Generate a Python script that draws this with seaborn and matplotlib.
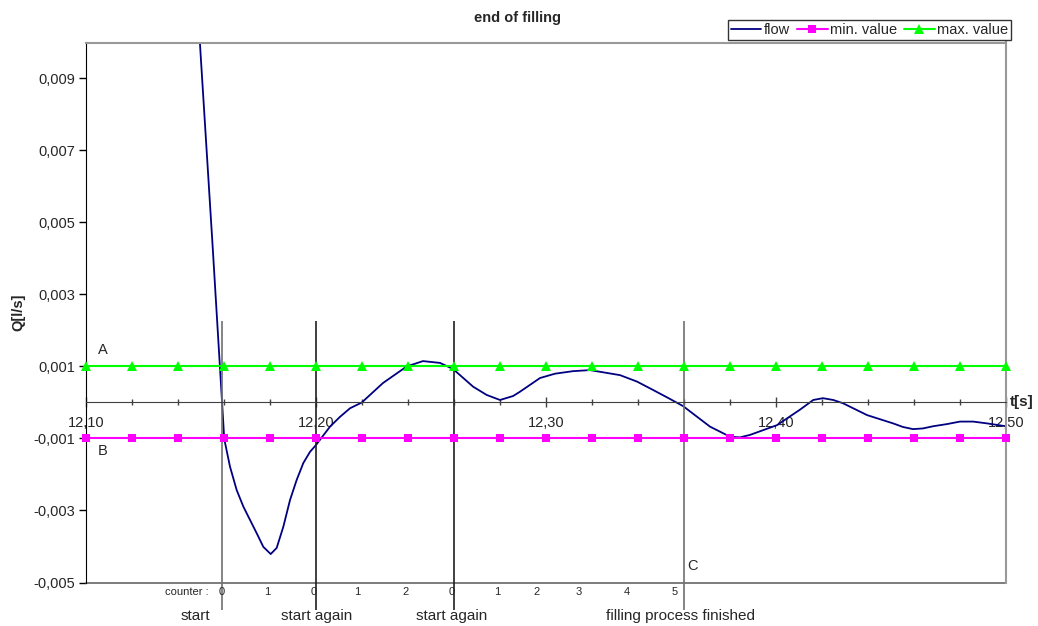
import numpy as np
import pandas as pd
import seaborn as sns
import matplotlib
matplotlib.use('Agg')
import matplotlib.pyplot as plt
from matplotlib.ticker import FixedLocator, FuncFormatter

# ---------------- data ----------------
# category axis (every 0.02 s), used by the limit series
t_cat = [12.10, 12.12, 12.14, 12.16, 12.18, 12.20, 12.22, 12.24, 12.26, 12.28, 12.30,
         12.32, 12.34, 12.36, 12.38, 12.40, 12.42, 12.44, 12.46, 12.48, 12.50]
q_min = [-0.001] * 21
q_max = [0.001] * 21

# flow curve at many points along the line
t_flow = [12.145, 12.150, 12.155, 12.1591, 12.1601, 12.1626, 12.1655, 12.1684, 12.1713,
          12.1742, 12.1771, 12.1803, 12.1829, 12.1858, 12.1887, 12.1916, 12.1945, 12.1974,
          12.2000, 12.2061, 12.2104, 12.2148, 12.2199, 12.2291, 12.2394, 12.2465, 12.2539,
          12.2596, 12.2683, 12.2742, 12.2800, 12.2857, 12.2887, 12.2974, 12.3039, 12.3117,
          12.3191, 12.3322, 12.3396, 12.3465, 12.3530, 12.3596, 12.3713, 12.3800, 12.3843,
          12.3887, 12.4004, 12.4104, 12.4162, 12.4204, 12.4249, 12.4291, 12.4396, 12.4509,
          12.4552, 12.4596, 12.4639, 12.4683, 12.4743, 12.4800, 12.4857, 12.4917, 12.5000]
q_flow = [0.0147, 0.0095, 0.0044, 0.00007, -0.00101, -0.00178, -0.00243, -0.00289, -0.00326,
          -0.00363, -0.00401, -0.00421, -0.00404, -0.00345, -0.00271, -0.00215, -0.00168, -0.00137,
          -0.00118, -0.00067, -0.0004, -0.00016, 0.0, 0.00054, 0.001, 0.00115, 0.0011,
          0.00093, 0.00044, 0.00021, 0.00007, 0.00018, 0.0003, 0.00068, 0.0008, 0.00087,
          0.0009, 0.00076, 0.00058, 0.00035, 0.00013, -0.0001, -0.00067, -0.00095, -0.00097,
          -0.0009, -0.00063, -0.0002, 0.00007, 0.00012, 0.00007, -0.00002, -0.00035, -0.00058,
          -0.00068, -0.00074, -0.00072, -0.00066, -0.0006, -0.00053, -0.00053, -0.00058, -0.00066]

# events (vertical markers) and counter row
event_t = [12.159, 12.20, 12.26, 12.36]
event_color = ['#707070', '#202020', '#202020', '#707070']
event_labels = ['start', 'start again', 'start again', 'filling process finished']
event_label_t = [12.1474, 12.2004, 12.2591, 12.3583]
counter_t = [12.159, 12.179, 12.199, 12.218, 12.239, 12.259, 12.279, 12.296, 12.314, 12.335, 12.356]
counter_vals = ['0', '1', '0', '1', '2', '0', '1', '2', '3', '4', '5']

y_ticks = [-0.005, -0.003, -0.001, 0.001, 0.003, 0.005, 0.007, 0.009]
x_major = [12.10, 12.20, 12.30, 12.40, 12.50]

sns.set_style('white')
plt.rcParams['font.family'] = ['Liberation Sans', 'DejaVu Sans']

fig = plt.figure(figsize=(10.38, 6.26), dpi=100)
ax = fig.add_axes([86/1038, 1-582.5/626, 920/1038, 540/626])

df_lim = pd.DataFrame({'t': t_cat, 'qmin': q_min, 'qmax': q_max})
df_flow = pd.DataFrame({'t': t_flow, 'q': q_flow})

sns.lineplot(data=df_flow, x='t', y='q', color='#000080', lw=1.3, label='flow', ax=ax)
sns.lineplot(data=df_lim, x='t', y='qmin', color='#FF00FF', lw=1.5, marker='s', markersize=6,
             markeredgewidth=0, label='min. value', ax=ax, clip_on=False, zorder=3)
sns.lineplot(data=df_lim, x='t', y='qmax', color='#00FF00', lw=1.5, marker='^', markersize=7,
             markeredgewidth=0, label='max. value', ax=ax, clip_on=False, zorder=3)

ax.set_xlim(12.10, 12.50)
ax.set_ylim(-0.005, 0.010)

# y axis
ax.yaxis.set_major_locator(FixedLocator(y_ticks))
ax.yaxis.set_major_formatter(FuncFormatter(lambda v, p: f"{v:.3f}".replace('.', ',')))
ax.tick_params(axis='y', left=True, direction='out', length=5, width=1, color='black',
               labelsize=10.5, pad=3)

# x axis crossing at zero
ax.spines['bottom'].set_position(('data', 0))
ax.spines['bottom'].set_color('#404040')
ax.spines['left'].set_color('black')
for s in ['top', 'right']:
    ax.spines[s].set_color('#999999')
    ax.spines[s].set_linewidth(1.5)
ax.axhline(-0.005, color='#666666', lw=1.2, clip_on=False, zorder=1)
ax.xaxis.set_major_locator(FixedLocator(x_major))
ax.xaxis.set_minor_locator(FixedLocator(t_cat))
ax.xaxis.set_major_formatter(FuncFormatter(lambda v, p: f"{v:.2f}".replace('.', ',')))
ax.tick_params(axis='x', which='major', bottom=True, direction='inout', length=7, width=1,
               color='#404040', labelsize=10.5, pad=6)
ax.tick_params(axis='x', which='minor', bottom=True, direction='inout', length=4, width=1,
               color='#404040')
ax.set_xlabel('')
ax.set_ylabel('Q[l/s]', fontsize=10.5, fontweight='bold')
ax.yaxis.set_label_coords(-0.066, 0.5)
ax.text(12.5015, 0, 't[s]', fontsize=11, fontweight='bold', ha='left', va='center')

# event lines and labels
ax.vlines(event_t, -0.00576, 0.00226, colors=event_color, lw=1.2, clip_on=False, zorder=2)
for t, lab in zip(event_label_t, event_labels):
    ax.text(t, -0.00592, lab, fontsize=11, ha='center', va='center', clip_on=False)
ax.text(12.1535, -0.00527, 'counter :', fontsize=8, ha='right', va='center')
for t, c in zip(counter_t, counter_vals):
    ax.text(t, -0.00527, c, fontsize=8, ha='center', va='center', clip_on=False)

ax.text(12.1074, 0.00146, 'A', fontsize=10.5, ha='center', va='center')
ax.text(12.1074, -0.00135, 'B', fontsize=10.5, ha='center', va='center')
ax.text(12.3639, -0.00454, 'C', fontsize=10.5, ha='center', va='center')

fig.text(517/1038, 1-18/626, 'end of filling', fontsize=10.5, fontweight='bold',
         ha='center', va='center')

leg = ax.legend(loc='upper right', bbox_to_anchor=(1011/1038, 1-20/626),
                bbox_transform=fig.transFigure, ncol=3, fontsize=10.5, frameon=True,
                fancybox=False, edgecolor='black', handlelength=2.1, handletextpad=0.15,
                columnspacing=0.5, borderpad=0.2, borderaxespad=0)
leg.get_frame().set_linewidth(1.0)

plt.savefig('out.png', dpi=100)
